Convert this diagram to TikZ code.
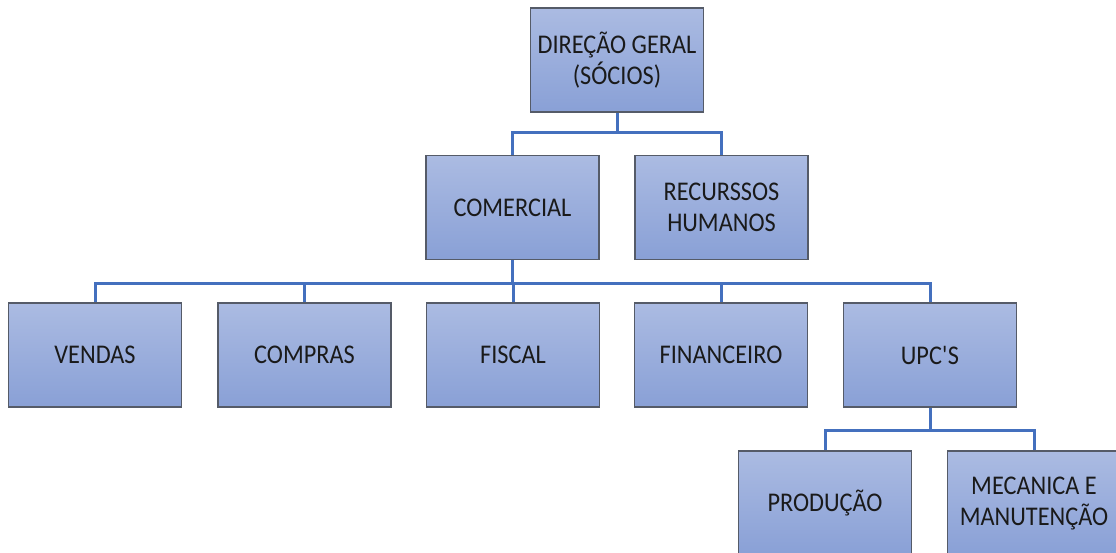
\documentclass[tikz,border=0pt]{standalone}
\usepackage{fontspec}
\setmainfont{Carlito}
\newfontfamily\boxfont[FakeStretch=0.9]{Carlito}
\begin{document}
\begin{tikzpicture}[x=1pt,y=-1pt,
  box/.style={draw=boxedge, line width=1.1pt, top color=boxtop, bottom color=boxbot,
    minimum width=173pt, minimum height=104pt, inner sep=0pt, align=center,
    text=textc, font=\boxfont\fontsize{27}{31}\selectfont},
  link/.style={draw=linec, line width=3pt}]
\definecolor{boxtop}{HTML}{ABBBE2}
\definecolor{boxbot}{HTML}{89A0D6}
\definecolor{boxedge}{HTML}{555B68}
\definecolor{linec}{HTML}{4470BE}
\definecolor{textc}{HTML}{1A1A1A}
\useasboundingbox (0,0) rectangle (1116,552);
\clip (0,0) rectangle (1116,552);
\fill[white] (0,0) rectangle (1116,552);
\node[box] (dir) at (617,60) {DIREÇÃO GERAL\\(SÓCIOS)};
\node[box] (com) at (512.5,207.5) {COMERCIAL};
\node[box] (rh) at (721.5,207.5) {RECURSSOS\\HUMANOS};
\node[box] (ven) at (95,355) {VENDAS};
\node[box] (cmp) at (304.5,355) {COMPRAS};
\node[box] (fis) at (513,355) {FISCAL};
\node[box] (fin) at (721,355) {FINANCEIRO};
\node[box] (upc) at (930,355) {UPC\textquotesingle S};
\node[box] (pro) at (825,503) {PRODUÇÃO};
\node[box] (mec) at (1034,503) {MECANICA E\\MANUTENÇÃO};
\path[link] (dir.south) -- ++(0,20) -| (com.north);
\path[link] (dir.south) -- ++(0,20) -| (rh.north);
\path[link] (com.south) -- ++(0,23) -| (ven.north);
\path[link] (com.south) -- ++(0,23) -| (cmp.north);
\path[link] (com.south) -- ++(0,23) -| (fis.north);
\path[link] (com.south) -- ++(0,23) -| (fin.north);
\path[link] (com.south) -- ++(0,23) -| (upc.north);
\path[link] (upc.south) -- ++(0,23) -| (pro.north);
\path[link] (upc.south) -- ++(0,23) -| (mec.north);
\end{tikzpicture}
\end{document}
